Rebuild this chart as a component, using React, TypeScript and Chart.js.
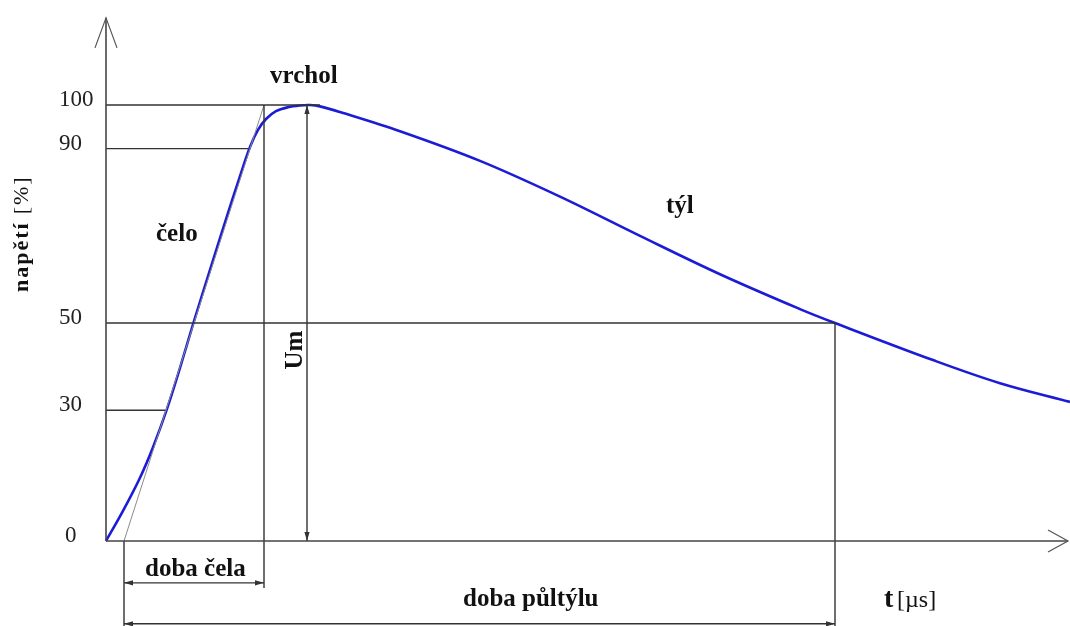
import React, { useEffect, useRef } from "react";
import { Chart, registerables } from "chart.js";

Chart.register(...registerables);

// ---- data (arbitrary time units, voltage in %) ----
const curveT = [0, 1.7, 3.4, 4.7, 6.1, 7.4, 8.7, 10.4, 11.9, 13.4, 14.4, 15.2, 16.0, 17.0, 18.2, 19.4, 20.4, 21.4, 23.4, 29.4, 37.4, 45.4, 53.4, 61.4, 69.4, 72.9, 82.7, 89.4, 96.4];
const curveU = [0, 6.9, 14.5, 21.5, 30.3, 39.7, 49.7, 62.2, 73.1, 83.7, 90.4, 94.3, 96.8, 98.6, 99.5, 99.9, 100, 99.7, 98.4, 94.0, 87.2, 79.0, 70.0, 61.2, 53.2, 50.0, 41.5, 36.2, 31.9];

const tickLabels = ["100", "90", "50", "30", "0"];
const levelValues = [100, 90, 50, 30, 0];
const levelEnds = [21.4, 14.2, 72.9, 5.9, 0];

const virtualOriginT = 1.8;
const frontEndT = 15.8;
const peakT = 20.1;
const halfTailT = 72.9;
const xAxisEndT = 96.2;
const yAxisEndU = 120;
const frontDimU = -9.6;
const tailDimU = -19.0;
const frontLineBottomU = -10.8;
const bottomU = -19.6;

const X_MIN = -10.6;
const X_MAX = 96.4;
const Y_MIN = -19.5;
const Y_MAX = 124.1;

const REF = "#333333";

function seg(x1: number, y1: number, x2: number, y2: number, color = REF, width = 1.4) {
  return {
    data: [{ x: x1, y: y1 }, { x: x2, y: y2 }],
    borderColor: color,
    borderWidth: width,
    pointRadius: 0,
    tension: 0,
    fill: false,
  };
}

export default function App() {
  const ref = useRef<HTMLCanvasElement | null>(null);

  useEffect(() => {
    if (!ref.current) return;

    const datasets: any[] = [];
    // axes
    datasets.push(seg(0, 0, xAxisEndT, 0, "#444444", 1.6));
    datasets.push(seg(0, 0, 0, yAxisEndU, "#444444", 1.6));
    // level lines
    for (let i = 0; i < 4; i++) {
      datasets.push(seg(0, levelValues[i], levelEnds[i], levelValues[i]));
    }
    // verticals
    datasets.push(seg(frontEndT, 100, frontEndT, frontLineBottomU));
    datasets.push(seg(peakT, 100, peakT, 0));
    datasets.push(seg(halfTailT, 50, halfTailT, bottomU));
    datasets.push(seg(virtualOriginT, 0, virtualOriginT, bottomU));
    // dimension lines
    datasets.push(seg(virtualOriginT, frontDimU, frontEndT, frontDimU, REF, 1.2));
    datasets.push(seg(virtualOriginT, tailDimU, halfTailT, tailDimU, REF, 1.4));
    // tangent
    datasets.push(seg(virtualOriginT, 0, frontEndT, 100, "#8a8a8a", 1));
    // wave
    datasets.push({
      data: curveT.map((t, i) => ({ x: t, y: curveU[i] })),
      borderColor: "#1c1cd6",
      borderWidth: 2.6,
      pointRadius: 0,
      tension: 0.35,
      fill: false,
    });

    const annot = {
      id: "annot",
      afterDraw(chart: any) {
        const ctx = chart.ctx as CanvasRenderingContext2D;
        const xs = chart.scales.x;
        const ys = chart.scales.y;
        const px = (t: number) => xs.getPixelForValue(t);
        const py = (u: number) => ys.getPixelForValue(u);
        ctx.save();

        // open arrowheads on axes
        ctx.strokeStyle = "#555";
        ctx.lineWidth = 1.2;
        const ax = px(0), ay = py(yAxisEndU);
        ctx.beginPath();
        ctx.moveTo(ax - 11, ay + 30);
        ctx.lineTo(ax, ay);
        ctx.lineTo(ax + 11, ay + 30);
        ctx.stroke();
        const bx = px(xAxisEndT), by = py(0);
        ctx.beginPath();
        ctx.moveTo(bx - 20, by - 11);
        ctx.lineTo(bx, by);
        ctx.lineTo(bx - 20, by + 11);
        ctx.stroke();

        // filled small arrowheads
        const head = (x: number, y: number, dx: number, dy: number, len = 9, w = 2.6) => {
          const nx = -dy, ny = dx;
          ctx.fillStyle = REF;
          ctx.beginPath();
          ctx.moveTo(x, y);
          ctx.lineTo(x - dx * len + nx * w, y - dy * len + ny * w);
          ctx.lineTo(x - dx * len - nx * w, y - dy * len - ny * w);
          ctx.closePath();
          ctx.fill();
        };
        head(px(peakT), py(100), 0, -1);
        head(px(peakT), py(0), 0, 1);
        head(px(virtualOriginT), py(frontDimU), -1, 0);
        head(px(frontEndT), py(frontDimU), 1, 0);
        head(px(virtualOriginT), py(tailDimU), -1, 0);
        head(px(halfTailT), py(tailDimU), 1, 0);

        // tick labels
        ctx.fillStyle = "#222";
        ctx.font = '23px "Liberation Serif"';
        ctx.textAlign = "left";
        ctx.textBaseline = "alphabetic";
        for (let i = 0; i < tickLabels.length; i++) {
          const x = tickLabels[i] === "0" ? px(0) - 41 : px(0) - 47;
          ctx.fillText(tickLabels[i], x, py(levelValues[i]) + 1);
        }

        // labels
        ctx.fillStyle = "#111";
        ctx.font = 'bold 25px "Liberation Serif"';
        ctx.fillText("vrchol", 270, 83);
        ctx.fillText("čelo", 156, 241);
        ctx.fillText("týl", 666, 213);
        ctx.fillText("doba čela", 145, 576);
        ctx.fillText("doba půltýlu", 463, 606);

        // Um rotated
        ctx.save();
        ctx.translate(302, 350);
        ctx.rotate(-Math.PI / 2);
        ctx.textAlign = "center";
        ctx.fillText("Um", 0, 0);
        ctx.restore();

        // t [µs]
        ctx.font = 'bold 28px "Liberation Serif"';
        ctx.fillText("t", 884, 607);
        ctx.font = '24px "Liberation Serif"';
        ctx.fillText("[µs]", 897, 607);

        // y title rotated
        ctx.save();
        ctx.translate(28, 292);
        ctx.rotate(-Math.PI / 2);
        ctx.textAlign = "left";
        ctx.font = 'bold 22px "Liberation Serif"';
        (ctx as any).letterSpacing = "2px";
        ctx.fillText("napětí", 0, 0);
        const w = ctx.measureText("napětí").width;
        ctx.font = '22px "Liberation Serif"';
        ctx.fillText("[%]", w + 7, 0);
        ctx.restore();

        ctx.restore();
      },
    };

    const chart = new Chart(ref.current, {
      type: "line",
      data: { datasets },
      options: {
        animation: false,
        responsive: false,
        maintainAspectRatio: false,
        layout: { padding: 0 },
        plugins: { legend: { display: false }, tooltip: { enabled: false } },
        scales: {
          x: { type: "linear", min: X_MIN, max: X_MAX, display: false },
          y: { type: "linear", min: Y_MIN, max: Y_MAX, display: false },
        },
      } as any,
      plugins: [annot],
    });
    return () => chart.destroy();
  }, []);

  return (
    <div style={{ position: "fixed", left: 0, top: 0, width: 1070, height: 626, background: "#fff" }}>
      <canvas ref={ref} width={1070} height={626} />
    </div>
  );
}
